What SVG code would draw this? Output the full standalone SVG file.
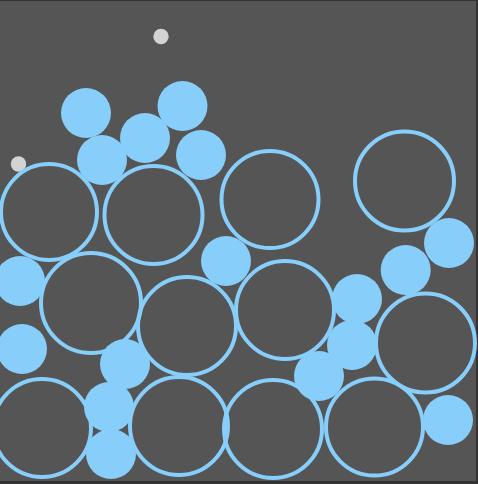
<svg xmlns="http://www.w3.org/2000/svg" width="478" height="484" viewBox="0 0 478 484">
<style>
.ring{fill:none;stroke:#87cefa;stroke-width:4}
.ball{fill:#87cefa}
.dot{fill:#d3d3d3}
</style>
<rect x="0" y="0" width="478" height="484" fill="#333333"/>
<rect x="0" y="1" width="476" height="480" fill="#555555"/>
<g id="dots">
<circle class="dot" cx="161" cy="36.5" r="7.7"/>
<circle class="dot" cx="18.5" cy="164" r="7.7"/>
</g>
<g id="rings">
<circle id="r1" class="ring" cx="49" cy="212" r="48"/>
<circle id="r2" class="ring" cx="153.5" cy="215" r="49"/>
<circle id="r3" class="ring" cx="270" cy="199.5" r="48.5"/>
<circle id="r4" class="ring" cx="404.5" cy="181" r="49.5"/>
<circle id="r5" class="ring" cx="91" cy="303" r="50"/>
<circle id="r6" class="ring" cx="187" cy="326" r="49"/>
<circle id="r7" class="ring" cx="285" cy="310" r="49"/>
<circle id="r8" class="ring" cx="425.5" cy="343" r="49.5"/>
<circle id="r9" class="ring" cx="42" cy="428" r="49"/>
<circle id="r10" class="ring" cx="179" cy="426" r="49"/>
<circle id="r11" class="ring" cx="273" cy="429" r="49"/>
<circle id="r12" class="ring" cx="374.5" cy="427" r="48.5"/>
</g>
<g id="balls">
<circle class="ball" cx="86" cy="113" r="25"/>
<circle class="ball" cx="182.5" cy="106" r="25"/>
<circle class="ball" cx="145" cy="138" r="25"/>
<circle class="ball" cx="102" cy="160" r="25"/>
<circle class="ball" cx="201" cy="155" r="25"/>
<circle class="ball" cx="226" cy="261" r="25"/>
<circle class="ball" cx="20" cy="281" r="25"/>
<circle class="ball" cx="22" cy="349" r="25"/>
<circle class="ball" cx="125" cy="364" r="25"/>
<circle class="ball" cx="109" cy="407" r="25"/>
<circle class="ball" cx="111" cy="454" r="25"/>
<circle class="ball" cx="449" cy="243" r="25"/>
<circle class="ball" cx="405.7" cy="270" r="25"/>
<circle class="ball" cx="357" cy="299" r="25"/>
<circle class="ball" cx="352" cy="345" r="25"/>
<circle class="ball" cx="319" cy="376" r="25"/>
<circle class="ball" cx="448" cy="420" r="25"/>
</g>
</svg>
